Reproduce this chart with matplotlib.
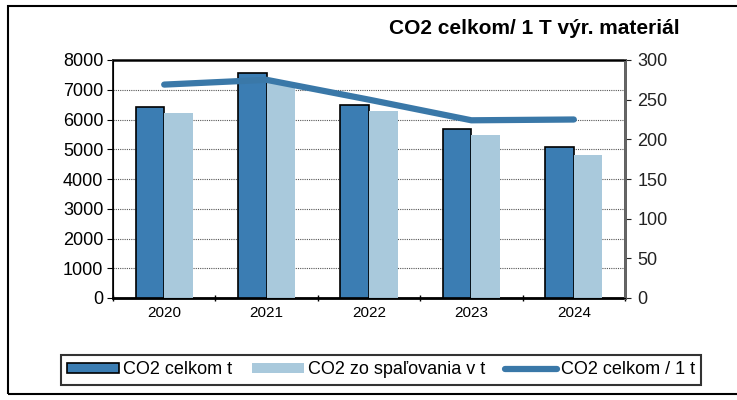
import matplotlib
matplotlib.use("Agg")
import numpy as np
from matplotlib import pyplot as plt
from matplotlib.patches import Rectangle

years = ["2020", "2021", "2022", "2023", "2024"]
co2_total = [6420, 7560, 6480, 5680, 5060]
co2_burn = [6220, 7220, 6270, 5480, 4820]
co2_per_t = [269, 275, 250, 224, 225]

plt.rcParams["font.family"] = ["Liberation Sans", "DejaVu Sans"]

dark = "#3b7db3"
light = "#a9c9dc"
line_c = "#3a78a8"

fig = plt.figure(figsize=(7.37, 4.0), dpi=100)
ax = fig.add_axes([113 / 737, 1 - 298 / 400, 512 / 737, 238 / 400])
ax2 = ax.twinx()

x = np.arange(len(years))
w = 0.28
ax.bar(x - w / 2, co2_total, w, color=dark, edgecolor="black", linewidth=1.2,
       label="CO2 celkom t", zorder=3)
ax.bar(x + w / 2, co2_burn, w, color=light, edgecolor="none",
       label="CO2 zo spaľovania v t", zorder=3)
ax2.plot(x, co2_per_t, color=line_c, linewidth=4.5, solid_capstyle="round",
         label="CO2 celkom / 1 t", zorder=4)

ax.set_xlim(-0.5, len(years) - 0.5)
ax.set_ylim(0, 8000)
ax.set_yticks(range(0, 8001, 1000))
ax2.set_ylim(0, 300)
ax2.set_yticks(range(0, 301, 50))

ax.set_xticks(x)
ax.set_xticklabels(years, fontsize=11)
ax.set_xticks(np.arange(-0.5, len(years)), minor=True)
ax.tick_params(axis="x", which="major", length=0, pad=6)
ax.tick_params(axis="x", which="minor", length=5, direction="inout", width=1)
ax.tick_params(axis="y", labelsize=13, length=4, pad=3)
ax2.tick_params(axis="y", labelsize=13, length=4, pad=5, colors="#222222")

ax.yaxis.grid(True, linestyle=(0, (1, 1)), color="#555555", linewidth=0.8, zorder=0)
ax.set_axisbelow(True)
for s in ["top", "right"]:
    ax.spines[s].set_linewidth(2)
    ax.spines[s].set_color("#333333")
ax.spines["left"].set_linewidth(1.2)
ax.spines["bottom"].set_linewidth(2)
ax2.spines["right"].set_linewidth(2)
ax2.spines["right"].set_color("#666666")

fig.text(680 / 737, 1 - 29 / 400, "CO2 celkom/ 1 T výr. materiál",
         ha="right", va="center", fontsize=15, fontweight="bold")

h1, l1 = ax.get_legend_handles_labels()
h2, l2 = ax2.get_legend_handles_labels()
leg = fig.legend(h1 + h2, l1 + l2, loc="center", ncol=3,
                 bbox_to_anchor=(381 / 737, 1 - 370 / 400), fontsize=13,
                 frameon=True, fancybox=False, edgecolor="black",
                 handlelength=2.9, handleheight=0.5, handletextpad=0.2,
                 columnspacing=1.1, borderpad=0.35)
leg.get_frame().set_linewidth(1.5)

fig.patches.append(Rectangle((8 / 737, 6 / 400), 1.0, 1 - 12 / 400,
                             transform=fig.transFigure, fill=False,
                             edgecolor="black", linewidth=1.5))

fig.savefig("out.png", dpi=100)
